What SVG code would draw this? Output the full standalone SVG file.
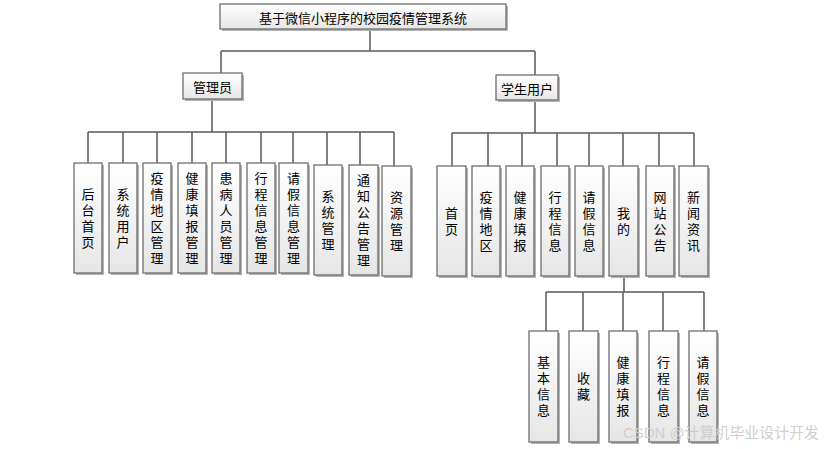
<svg xmlns="http://www.w3.org/2000/svg" width="831" height="449" viewBox="0 0 831 449">
<defs>
<linearGradient id="g" x1="0" y1="0" x2="0" y2="1">
<stop offset="0" stop-color="#ffffff"/>
<stop offset="1" stop-color="#e6e6e6"/>
</linearGradient>
</defs>
<style>
.box{fill:url(#g);stroke:#6e6e6e;stroke-width:1.3}
.sh{fill:#b4b4b4}
.t{font-family:"Noto Sans CJK SC","Liberation Sans",sans-serif;font-size:13px;fill:#000;text-anchor:middle;dominant-baseline:central}
.v{font-family:"Noto Sans CJK SC","Liberation Sans",sans-serif;font-size:13px;fill:#000;text-anchor:middle;writing-mode:vertical-rl;letter-spacing:3px}
.c{fill:none;stroke:#5a5a5a;stroke-width:1.5}
.wm{font-family:"Liberation Sans","Noto Sans CJK SC",sans-serif;font-size:15px;fill:#cfcfcf}
</style>
<rect width="831" height="449" fill="#fff"/>
<g id="connectors">
<path class="c" d="M370 29V51M221 51H535M221 51V73M535 51V75"/>
<path class="c" d="M212 99V132M88 132H394M88 132V163M123 132V163M157 132V163M192 132V163M226 132V163M261 132V163M293 132V163M327 132V165M360 132V165M394 132V166"/>
<path class="c" d="M535 100V133M452 133H694M452 133V166M488 133V166M522 133V166M557 133V166M589 133V166M623 133V166M659 133V166M694 133V166"/>
<path class="c" d="M624 276V292M546 292H704M546 292V331M583 292V331M623 292V331M663 292V331M704 292V331"/>
</g>
<g id="root"><rect class="sh" x="222" y="6" width="286" height="25"/><rect class="box" x="220" y="4" width="286" height="25"/><text class="t" x="363" y="17">基于微信小程序的校园疫情管理系统</text></g>
<g id="admin"><rect class="sh" x="185" y="75" width="59" height="26"/><rect class="box" x="183" y="73" width="59" height="26"/><text class="t" x="212.5" y="86">管理员</text></g>
<g id="student"><rect class="sh" x="498" y="77" width="62" height="25"/><rect class="box" x="496" y="75" width="62" height="25"/><text class="t" x="527" y="88">学生用户</text></g>

<g id="a1"><rect class="sh" x="76" y="165" width="28" height="110"/><rect class="box" x="74" y="163" width="28" height="110"/><text class="v" x="88" y="219.5">后台首页</text></g>
<g id="a2"><rect class="sh" x="111" y="165" width="28" height="110"/><rect class="box" x="109" y="163" width="28" height="110"/><text class="v" x="123" y="219.5">系统用户</text></g>
<g id="a3"><rect class="sh" x="145" y="165" width="28" height="110"/><rect class="box" x="143" y="163" width="28" height="110"/><text class="v" x="157" y="219.5">疫情地区管理</text></g>
<g id="a4"><rect class="sh" x="180" y="165" width="28" height="110"/><rect class="box" x="178" y="163" width="28" height="110"/><text class="v" x="192" y="219.5">健康填报管理</text></g>
<g id="a5"><rect class="sh" x="214" y="165" width="28" height="110"/><rect class="box" x="212" y="163" width="28" height="110"/><text class="v" x="226" y="219.5">患病人员管理</text></g>
<g id="a6"><rect class="sh" x="249" y="165" width="28" height="110"/><rect class="box" x="247" y="163" width="28" height="110"/><text class="v" x="261" y="219.5">行程信息管理</text></g>
<g id="a7"><rect class="sh" x="281" y="165" width="29" height="110"/><rect class="box" x="279" y="163" width="29" height="110"/><text class="v" x="293.5" y="219.5">请假信息管理</text></g>
<g id="a8"><rect class="sh" x="316" y="167" width="28" height="110"/><rect class="box" x="314" y="165" width="28" height="110"/><text class="v" x="328" y="221.5">系统管理</text></g>
<g id="a9"><rect class="sh" x="351" y="167" width="29" height="110"/><rect class="box" x="349" y="165" width="29" height="110"/><text class="v" x="363.5" y="221.5">通知公告管理</text></g>
<g id="a10"><rect class="sh" x="384" y="168" width="29" height="110"/><rect class="box" x="382" y="166" width="29" height="110"/><text class="v" x="396.5" y="222.5">资源管理</text></g>

<g id="s1"><rect class="sh" x="439" y="168" width="29" height="110"/><rect class="box" x="437" y="166" width="29" height="110"/><text class="v" x="451.5" y="222.5">首页</text></g>
<g id="s2"><rect class="sh" x="474" y="168" width="28" height="110"/><rect class="box" x="472" y="166" width="28" height="110"/><text class="v" x="486" y="222.5">疫情地区</text></g>
<g id="s3"><rect class="sh" x="508" y="168" width="28" height="110"/><rect class="box" x="506" y="166" width="28" height="110"/><text class="v" x="520" y="222.5">健康填报</text></g>
<g id="s4"><rect class="sh" x="543" y="168" width="28" height="110"/><rect class="box" x="541" y="166" width="28" height="110"/><text class="v" x="555" y="222.5">行程信息</text></g>
<g id="s5"><rect class="sh" x="577" y="168" width="28" height="110"/><rect class="box" x="575" y="166" width="28" height="110"/><text class="v" x="589" y="222.5">请假信息</text></g>
<g id="s6"><rect class="sh" x="611" y="168" width="29" height="110"/><rect class="box" x="609" y="166" width="29" height="110"/><text class="v" x="623.5" y="222.5">我的</text></g>
<g id="s7"><rect class="sh" x="648" y="168" width="28" height="110"/><rect class="box" x="646" y="166" width="28" height="110"/><text class="v" x="660" y="222.5">网站公告</text></g>
<g id="s8"><rect class="sh" x="681" y="168" width="29" height="110"/><rect class="box" x="679" y="166" width="29" height="110"/><text class="v" x="693.5" y="222.5">新闻资讯</text></g>

<g id="m1"><rect class="sh" x="531" y="333" width="29" height="111"/><rect class="box" x="529" y="331" width="29" height="111"/><text class="v" x="543.5" y="387.5">基本信息</text></g>
<g id="m2"><rect class="sh" x="571" y="333" width="29" height="111"/><rect class="box" x="569" y="331" width="29" height="111"/><text class="v" x="583.5" y="387.5">收藏</text></g>
<g id="m3"><rect class="sh" x="611" y="333" width="28" height="111"/><rect class="box" x="609" y="331" width="28" height="111"/><text class="v" x="623" y="387.5">健康填报</text></g>
<g id="m4"><rect class="sh" x="651" y="333" width="29" height="111"/><rect class="box" x="649" y="331" width="29" height="111"/><text class="v" x="663.5" y="387.5">行程信息</text></g>
<g id="m5"><rect class="sh" x="691" y="333" width="28" height="111"/><rect class="box" x="689" y="331" width="28" height="111"/><text class="v" x="703" y="387.5">请假信息</text></g>

<text class="wm" x="623" y="438" textLength="196" lengthAdjust="spacingAndGlyphs">CSDN @计算机毕业设计开发</text>
</svg>
